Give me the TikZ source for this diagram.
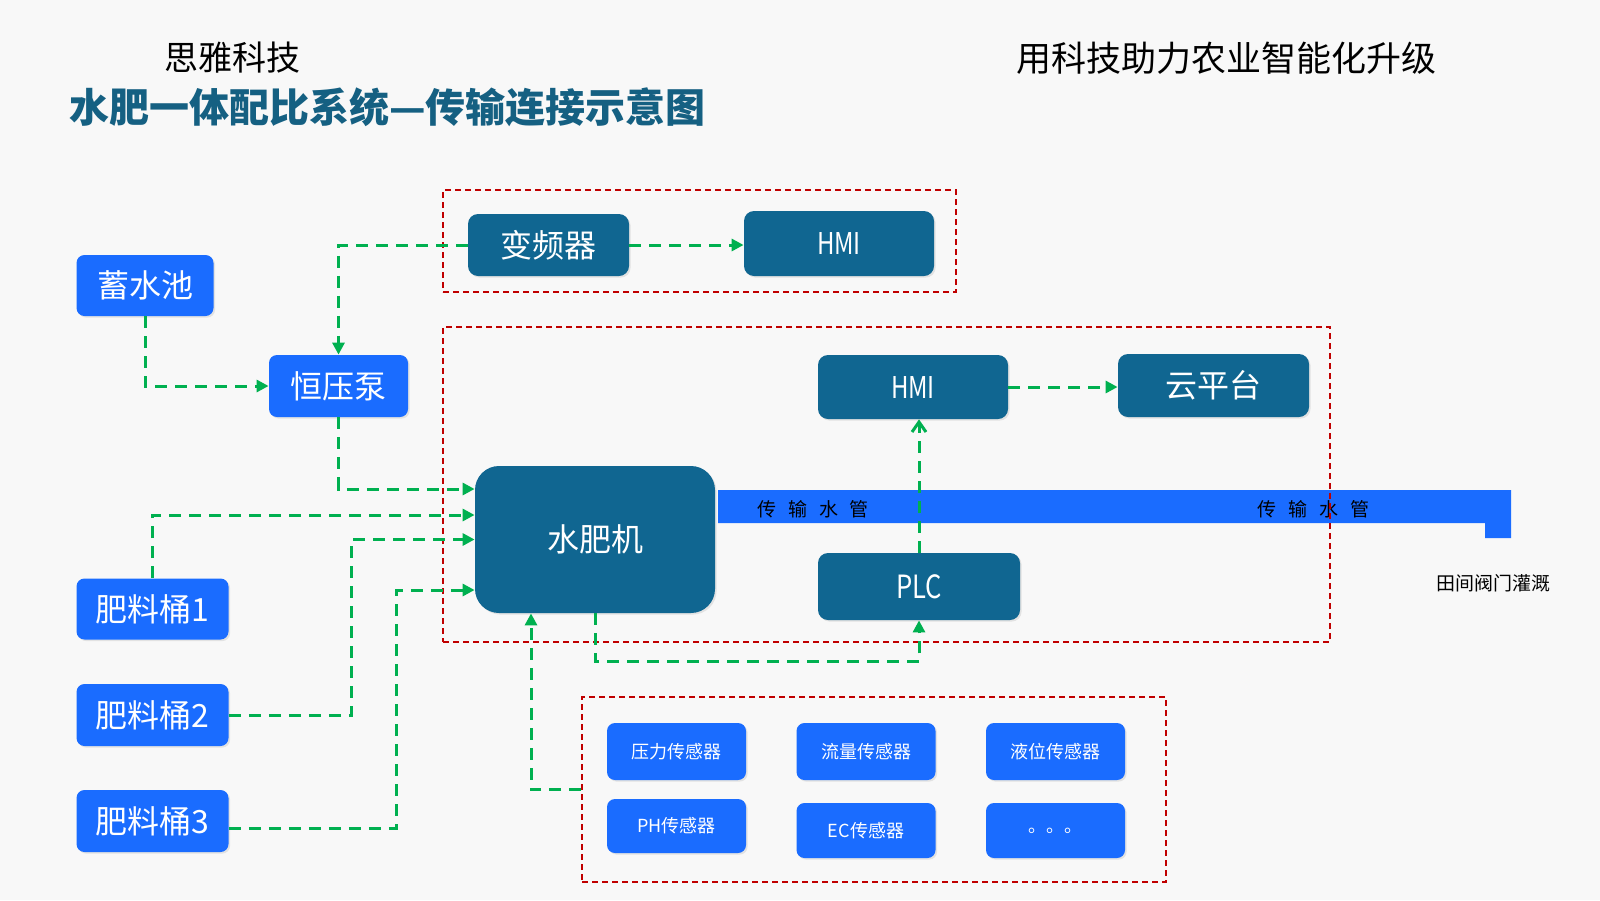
\documentclass[tikz,border=0pt]{standalone}
\usepackage{fontspec}
\setmainfont{Noto Sans CJK SC}
\newfontfamily\narrowfont[FakeStretch=0.8]{Noto Sans CJK SC}
\usetikzlibrary{arrows.meta,shadows}

\definecolor{pagebg}{HTML}{F8F8F8}
\definecolor{boxblue}{HTML}{1A6CFF}
\definecolor{boxdark}{HTML}{106691}
\definecolor{titleblue}{HTML}{156082}
\definecolor{flowgreen}{HTML}{00B050}
\definecolor{linered}{HTML}{C00000}

\begin{document}
\begin{tikzpicture}[x=0.5pt,y=-0.5pt,
  bluebox/.style={fill=boxblue, text=white, rounded corners=4pt, inner sep=0pt,
    drop shadow={opacity=0.18, shadow xshift=0.8pt, shadow yshift=-0.8pt}},
  darkbox/.style={fill=boxdark, text=white, rounded corners=5pt, inner sep=0pt,
    drop shadow={opacity=0.18, shadow xshift=0.8pt, shadow yshift=-0.8pt}},
  groupbox/.style={draw=linered, line width=1pt, dash pattern=on 3pt off 2pt, inner sep=0pt},
  flow/.style={draw=flowgreen, line width=1.5pt, dash pattern=on 6pt off 4pt,
    -{Triangle[length=6pt,width=6pt]}},
  upflow/.style={draw=flowgreen, line width=1.5pt, dash pattern=on 6pt off 4pt,
    -{Straight Barb[length=5pt,width=7pt]}},
  big/.style={font=\fontsize{16}{18}\selectfont},
  small/.style={font=\fontsize{9}{11}\selectfont}]

  % Page
  \fill[pagebg] (0,0) rectangle (1600,900);

  % Headings
  \node[font=\fontsize{17}{20}\selectfont] (brand) at (232,58) {思雅科技};
  \node[anchor=west, text=titleblue, font=\fontsize{20}{24}\selectfont\bfseries] (title) at (62,107)
    {水肥一体配比系统—传输连接示意图};
  \node[font=\fontsize{17.5}{20}\selectfont] (slogan) at (1226,58) {用科技助力农业智能化升级};

  % Water pipe
  \fill[boxblue] (718,490) -- (1511,490) -- (1511,538) -- (1485,538) -- (1485,523) -- (718,523) -- cycle;
  \node[font=\fontsize{9.5}{11}\selectfont] (pipeA) at (813,509) {传\hspace{6pt}输\hspace{6pt}水\hspace{6pt}管};
  \node[font=\fontsize{9.5}{11}\selectfont] (pipeB) at (1313,509) {传\hspace{6pt}输\hspace{6pt}水\hspace{6pt}管};
  \node[font=\fontsize{9.5}{11}\selectfont] (field) at (1493,583) {田间阀门灌溉};

  % Dashed groups
  \node[groupbox, minimum width=256.5pt, minimum height=51pt] (topgrp) at (699.5,241) {};
  \node[groupbox, minimum width=443.5pt, minimum height=157.5pt] (maingrp) at (886.5,484.5) {};
  \node[groupbox, minimum width=292pt, minimum height=92.5pt] (sensgrp) at (874,789.5) {};

  % Left side
  \node[bluebox, big, minimum width=68.5pt, minimum height=30.5pt] (pool) at (145,285.5) {蓄水池};
  \node[bluebox, big, minimum width=69.5pt, minimum height=31pt] (pump) at (338.5,386) {恒压泵};
  \node[bluebox, big, minimum width=76pt, minimum height=30.5pt] (tank1) at (152.5,609) {肥料桶1};
  \node[bluebox, big, minimum width=76pt, minimum height=31pt] (tank2) at (152.5,715) {肥料桶2};
  \node[bluebox, big, minimum width=76pt, minimum height=31pt] (tank3) at (152.5,821) {肥料桶3};

  % Control part
  \node[darkbox, big, minimum width=80.5pt, minimum height=31pt] (inverter) at (548.5,245) {变频器};
  \node[darkbox, minimum width=95pt, minimum height=32.5pt, font=\narrowfont\fontsize{15}{17}\selectfont] (hmitop) at (839,243.5) {HMI};
  \node[darkbox, minimum width=95pt, minimum height=32pt, font=\narrowfont\fontsize{15}{17}\selectfont] (hmi) at (913,387) {HMI};
  \node[darkbox, big, minimum width=95.5pt, minimum height=31.5pt] (cloud) at (1213.5,385.5) {云平台};
  \node[darkbox, big, rounded corners=12pt, minimum width=120pt, minimum height=73.5pt] (mixer) at (595,539.5) {水肥机};
  \node[darkbox, minimum width=101pt, minimum height=33.5pt, font=\narrowfont\fontsize{16}{18}\selectfont] (plc) at (919,586.5) {PLC};

  % Sensors
  \node[bluebox, small, minimum width=69.5pt, minimum height=28.5pt] (press) at (676.5,751.5) {压力传感器};
  \node[bluebox, small, minimum width=69.5pt, minimum height=28.5pt] (flowm) at (866,751.5) {流量传感器};
  \node[bluebox, small, minimum width=69.5pt, minimum height=28.5pt] (level) at (1055.5,751.5) {液位传感器};
  \node[bluebox, small, minimum width=69.5pt, minimum height=27pt] (ph) at (676.5,826) {PH传感器};
  \node[bluebox, small, minimum width=69.5pt, minimum height=27.5pt] (ec) at (866,830.5) {EC传感器};
  \node[bluebox, small, minimum width=69.5pt, minimum height=27.5pt] (more) at (1055.5,830.5) {。。。};

  % Connectors
  \draw[flow] (pool.south) |- (pump.west);
  \draw[flow] (inverter.west) -| (pump.north);
  \draw[flow] (inverter.east) -- (inverter.east -| hmitop.west);
  \draw[flow] (pump.south) |- ([yshift=25.25pt]mixer.west);
  \draw[flow] (tank1.north) |- ([yshift=12.25pt]mixer.west);
  \draw[flow] (tank2.east) -| ([xshift=-61.5pt]mixer.west) -- (mixer.west);
  \draw[flow] ([yshift=-3.5pt]tank3.east) -| ([xshift=-39pt,yshift=-25.25pt]mixer.west) -- ([yshift=-25.25pt]mixer.west);
  \draw[flow] (sensgrp.west) -| ([xshift=-32pt]mixer.south);
  \draw[flow] (mixer.south) -- ++(0,48) -| (plc.south);
  \draw[upflow] (plc.north) -- (plc.north |- hmi.south);
  \draw[flow] (hmi.east) -- (hmi.east -| cloud.west);
\end{tikzpicture}
\end{document}
